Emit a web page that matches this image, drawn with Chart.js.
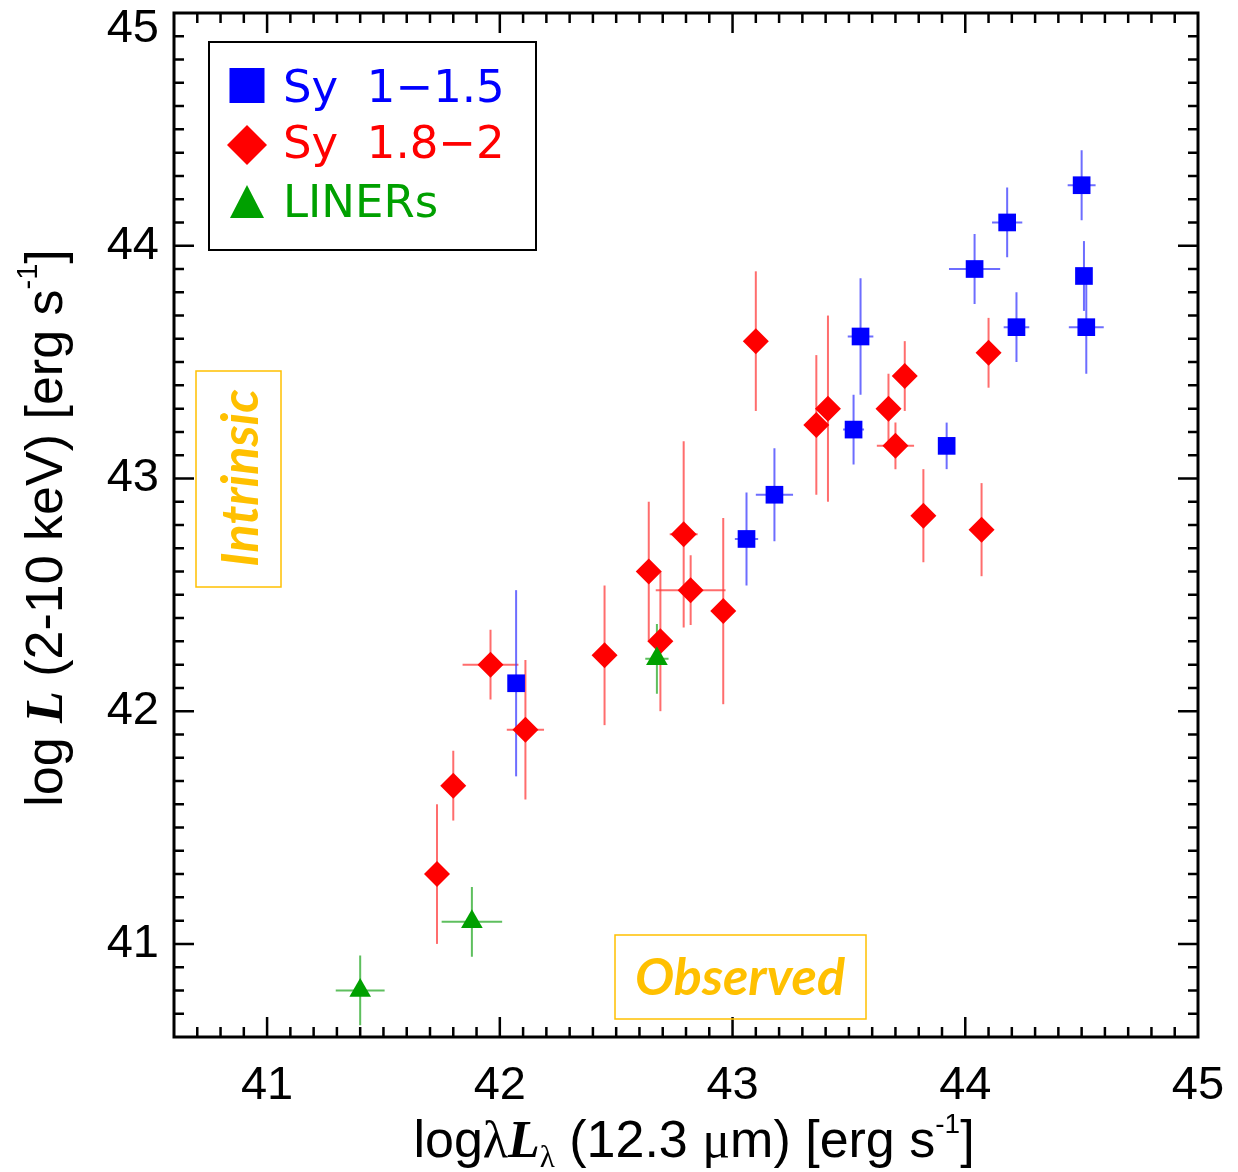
<!DOCTYPE html>
<html>
<head>
<meta charset="utf-8">
<script src="https://cdn.jsdelivr.net/npm/chart.js@4.4.1/dist/chart.umd.min.js"></script>
<style>
  html, body { margin: 0; padding: 0; background: #fff; }
  #wrap { width: 1238px; height: 1172px; position: relative; }
</style>
</head>
<body>
<div id="wrap"><canvas id="chart" width="1238" height="1172"></canvas></div>
<script>
// Sy 1-1.5 (blue squares)
const sy1X    = [42.07, 43.06, 43.18, 43.52, 43.55, 43.92, 44.04, 44.18, 44.22, 44.50, 44.51, 44.52];
const sy1Y    = [42.12, 42.74, 42.93, 43.21, 43.61, 43.14, 43.90, 44.10, 43.65, 44.26, 43.87, 43.65];
const sy1XErr = [0, 0.05, 0.08, 0.045, 0.055, 0, 0.11, 0.065, 0.055, 0.06, 0, 0.075];
const sy1YErr = [0.4, 0.2, 0.2, 0.15, 0.25, 0.1, 0.15, 0.15, 0.15, 0.15, 0.15, 0.2];

// Sy 1.8-2 (red diamonds)
const sy2X    = [41.96, 42.11, 41.80, 42.45, 42.64, 42.69, 42.82, 42.79, 42.96, 41.73, 43.10, 43.36, 43.41, 43.74, 43.67, 43.70, 43.82, 44.07, 44.10];
const sy2Y    = [42.20, 41.92, 41.68, 42.24, 42.60, 42.30, 42.52, 42.76, 42.43, 41.30, 43.59, 43.23, 43.30, 43.44, 43.30, 43.14, 42.84, 42.78, 43.54];
const sy2XErr = [0.12, 0.08, 0, 0, 0, 0, 0.15, 0.06, 0, 0, 0, 0, 0, 0, 0, 0.08, 0, 0, 0];
const sy2YErr = [0.15, 0.3, 0.15, 0.3, 0.3, 0.3, 0.15, 0.4, 0.4, 0.3, 0.3, 0.3, 0.4, 0.15, 0.15, 0.1, 0.2, 0.2, 0.15];

// LINERs (green triangles)
const linerX    = [41.40, 41.88, 42.675];
const linerY    = [40.80, 41.095, 42.225];
const linerXErr = [0.105, 0.13, 0.05];
const linerYErr = [0.15, 0.15, 0.15];

const xTicks = [41, 42, 43, 44, 45];
const yTicks = [41, 42, 43, 44, 45];
const legendLabels = ["Sy  1\u22121.5", "Sy  1.8\u22122", "LINERs"];

const SANS = "'Liberation Sans', Arial, Helvetica, sans-serif";
const SERIF = "'Liberation Serif', 'Times New Roman', serif";

function points(xs, ys, xe, ye) {
    return xs.map((x, i) => ({ x: x, y: ys[i], xErr: xe[i], yErr: ye[i] }));
}

const errorBars = {
    id: "errorBars",
    beforeDatasetsDraw(chart) {
        const ctx = chart.ctx;
        const xs = chart.scales.x;
        const ys = chart.scales.y;
        ctx.save();
        ctx.lineWidth = 2;
        chart.data.datasets.forEach((ds) => {
            ctx.strokeStyle = ds.errorColor;
            ds.data.forEach((p) => {
                const px = xs.getPixelForValue(p.x);
                const py = ys.getPixelForValue(p.y);
                ctx.beginPath();
                if (p.yErr) {
                    ctx.moveTo(px, ys.getPixelForValue(p.y - p.yErr));
                    ctx.lineTo(px, ys.getPixelForValue(p.y + p.yErr));
                }
                if (p.xErr) {
                    ctx.moveTo(xs.getPixelForValue(p.x - p.xErr), py);
                    ctx.lineTo(xs.getPixelForValue(p.x + p.xErr), py);
                }
                ctx.stroke();
            });
        });
        ctx.restore();
    },
};

function drawRich(ctx, parts, x, y, angle) {
    ctx.save();
    ctx.translate(x, y);
    ctx.rotate(angle);
    ctx.textAlign = "left";
    ctx.textBaseline = "alphabetic";
    let total = 0;
    parts.forEach((p) => {
        ctx.font = p.font;
        p.w = ctx.measureText(p.text).width;
        total += p.w;
    });
    let cx = -total / 2;
    parts.forEach((p) => {
        ctx.font = p.font;
        ctx.fillStyle = "#000";
        ctx.fillText(p.text, cx, p.dy || 0);
        cx += p.w;
    });
    ctx.restore();
}

const decorations = {
    id: "decorations",
    afterDraw(chart) {
        const { ctx, chartArea: a, scales } = chart;
        const xs = scales.x;
        const ys = scales.y;
        ctx.save();

        // inward ticks on all four sides
        ctx.strokeStyle = "#000";
        ctx.lineWidth = 2.5;
        ctx.beginPath();
        for (let i = 407; i <= 449; i++) {
            const len = i % 10 === 0 ? 20 : 10;
            const px = xs.getPixelForValue(i / 10);
            ctx.moveTo(px, a.bottom);
            ctx.lineTo(px, a.bottom - len);
            ctx.moveTo(px, a.top);
            ctx.lineTo(px, a.top + len);
            const py = ys.getPixelForValue(i / 10);
            ctx.moveTo(a.left, py);
            ctx.lineTo(a.left + len, py);
            ctx.moveTo(a.right, py);
            ctx.lineTo(a.right - len, py);
        }
        ctx.stroke();
        ctx.lineWidth = 3;
        ctx.strokeRect(a.left, a.top, a.right - a.left, a.bottom - a.top);

        // axis titles
        drawRich(ctx, [
            { text: "log", font: "52px " + SANS },
            { text: "\u03bb", font: "52px " + SERIF },
            { text: "L", font: "bold italic 52px " + SERIF },
            { text: "\u03bb", font: "31px " + SERIF, dy: 10 },
            { text: " (12.3 ", font: "52px " + SANS },
            { text: "\u03bc", font: "52px " + SERIF },
            { text: "m) [erg s", font: "52px " + SANS },
            { text: "-1", font: "28px " + SANS, dy: -24 },
            { text: "]", font: "52px " + SANS },
        ], (a.left + a.right) / 2 + 8, 1157, 0);

        drawRich(ctx, [
            { text: "log ", font: "52px " + SANS },
            { text: "L", font: "bold italic 52px " + SERIF },
            { text: " (2-10 keV) [erg s", font: "52px " + SANS },
            { text: "-1", font: "29px " + SANS, dy: -25 },
            { text: "]", font: "52px " + SANS },
        ], 62, (a.top + a.bottom) / 2 + 3, -Math.PI / 2);

        // legend
        const lx = a.left + 35;
        const ly = a.top + 29;
        ctx.lineWidth = 2;
        ctx.strokeStyle = "#000";
        ctx.strokeRect(lx, ly, 327, 208);
        const cols = ["#0000ff", "#ff0000", "#00a000"];
        const base = [ly + 60, ly + 116, ly + 175];
        const mx = lx + 38;
        ctx.fillStyle = cols[0];
        ctx.fillRect(mx - 17.5, ly + 26, 35, 35);
        ctx.fillStyle = cols[1];
        ctx.beginPath();
        ctx.moveTo(mx - 20, ly + 103);
        ctx.lineTo(mx, ly + 83);
        ctx.lineTo(mx + 20, ly + 103);
        ctx.lineTo(mx, ly + 123);
        ctx.closePath();
        ctx.fill();
        ctx.fillStyle = cols[2];
        ctx.beginPath();
        ctx.moveTo(mx - 17, ly + 176);
        ctx.lineTo(mx, ly + 143);
        ctx.lineTo(mx + 17, ly + 176);
        ctx.closePath();
        ctx.fill();
        ctx.font = "45px 'DejaVu Sans', sans-serif";
        ctx.textAlign = "left";
        ctx.textBaseline = "alphabetic";
        legendLabels.forEach((t, i) => {
            ctx.fillStyle = cols[i];
            ctx.fillText(t, lx + 74, base[i]);
        });

        // annotation boxes
        ctx.strokeStyle = "#ffc000";
        ctx.fillStyle = "#ffc000";
        ctx.lineWidth = 1.5;
        ctx.strokeRect(a.left + 22, a.top + 358, 85, 216);
        ctx.strokeRect(a.left + 441, a.top + 922, 251, 84);
        ctx.font = "bold italic 52px Lato, 'Open Sans', sans-serif";
        ctx.textAlign = "center";
        ctx.save();
        ctx.translate(a.left + 84, a.top + 465);
        ctx.rotate(-Math.PI / 2);
        ctx.fillText("Intrinsic", 0, 0);
        ctx.restore();
        ctx.font = "bold italic 52px Lato, 'Open Sans', sans-serif";
        ctx.fillText("Observed", a.left + 566, a.top + 982);

        ctx.restore();
    },
};

new Chart(document.getElementById("chart"), {
    type: "scatter",
    data: {
        datasets: [
            {
                label: "LINERs",
                data: points(linerX, linerY, linerXErr, linerYErr),
                pointStyle: "triangle",
                pointRadius: 12.5,
                backgroundColor: "#00a000",
                borderWidth: 0,
                errorColor: "rgba(40,170,40,0.75)",
                order: 0,
            },
            {
                label: "Sy 1.8-2",
                data: points(sy2X, sy2Y, sy2XErr, sy2YErr),
                pointStyle: "rectRot",
                pointRadius: 13,
                backgroundColor: "#ff0000",
                borderWidth: 0,
                errorColor: "rgba(255,60,60,0.75)",
                order: 1,
            },
            {
                label: "Sy 1-1.5",
                data: points(sy1X, sy1Y, sy1XErr, sy1YErr),
                pointStyle: "rect",
                pointRadius: 12.5,
                backgroundColor: "#0000ff",
                borderWidth: 0,
                errorColor: "rgba(60,60,255,0.75)",
                order: 2,
            },
        ],
    },
    options: {
        responsive: false,
        devicePixelRatio: 1,
        animation: false,
        events: [],
        layout: { padding: { top: 13, right: 40, left: 0, bottom: 0 } },
        plugins: {
            legend: { display: false },
            tooltip: { enabled: false },
        },
        scales: {
            x: {
                type: "linear",
                min: 40.6,
                max: 45,
                grid: { display: false, drawTicks: false },
                border: { display: false },
                afterBuildTicks: (s) => {
                    s.ticks = xTicks.map((v) => ({ value: v }));
                },
                afterFit: (s) => {
                    s.height = 135;
                    s.paddingLeft = 0;
                    s.paddingRight = 0;
                },
                ticks: {
                    padding: 21,
                    color: "#000",
                    maxRotation: 0,
                    autoSkip: false,
                    font: { family: SANS, size: 47 },
                },
            },
            y: {
                type: "linear",
                min: 40.6,
                max: 45,
                grid: { display: false, drawTicks: false },
                border: { display: false },
                afterBuildTicks: (s) => {
                    s.ticks = yTicks.map((v) => ({ value: v }));
                },
                afterFit: (s) => {
                    s.width = 174;
                    s.paddingTop = 0;
                    s.paddingBottom = 0;
                },
                ticks: {
                    padding: 15,
                    color: "#000",
                    autoSkip: false,
                    font: { family: SANS, size: 47, lineHeight: 0.68 },
                    callback: (v) => (v === 45 ? ["", "45"] : String(v)),
                },
            },
        },
    },
    plugins: [errorBars, decorations],
});
</script>
</body>
</html>
